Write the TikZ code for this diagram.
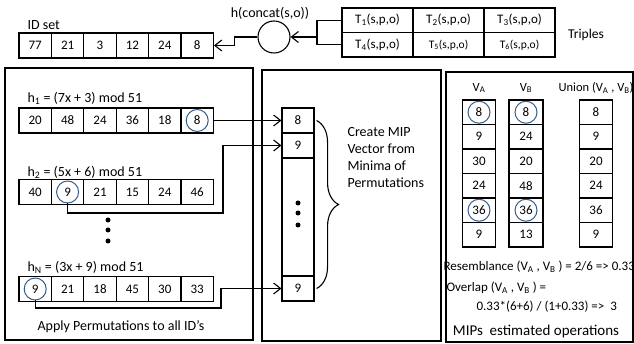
\documentclass[tikz,border=0pt]{standalone}
\usepackage{fontspec}
\setmainfont{Carlito}
\usetikzlibrary{arrows.meta,decorations.pathreplacing}
\definecolor{cblue}{RGB}{56,93,138}
\begin{document}
\begin{tikzpicture}[x=1pt,y=-1pt,line width=1.1pt,
  cell/.style={draw, line width=1.1pt, minimum width=32.4pt, minimum height=25pt, inner sep=0pt, font=\fontsize{13}{15}\selectfont},
  tcell/.style={draw, line width=1.1pt, minimum width=71pt, minimum height=24.5pt, inner sep=0pt, font=\fontsize{13}{15}\selectfont},
  vcell/.style={draw, line width=1.1pt, minimum width=33pt, minimum height=24.5pt, inner sep=0pt, font=\fontsize{13}{15}\selectfont},
  ring/.style={draw=cblue, line width=1pt, circle, minimum size=22pt, inner sep=0pt},
  lbl/.style={inner sep=0pt, font=\fontsize{14}{16}\selectfont},
  slbl/.style={inner sep=0pt, font=\fontsize{12.5}{15}\selectfont},
  rlbl/.style={inner sep=0pt, font=\fontsize{13}{15}\selectfont},
  panel/.style={draw, line width=1.1pt},
  arr/.style={-{Straight Barb[length=7pt,width=11pt]}},
  dot/.style={fill, circle, inner sep=0pt, minimum size=5pt}
]
\useasboundingbox (0,0) rectangle (634,344);

% ID set
\node[lbl, anchor=west] (idlab) at (27,25) {ID set};
\foreach \v [count=\i] in {77,21,3,12,24,8}
  \node[cell] (id\i) at ({35.2+32.4*(\i-1)},45.5) {\v};

% hash circle
\node[draw, circle, minimum size=32pt, inner sep=0pt] (circ) at (274,37) {};
\node[lbl] (hlab) at (270,13) {h(concat(s,o))};

% Triples table
\node[tcell] (t1) at (377.5,20.25) {T\textsubscript{1}(s,p,o)};
\node[tcell] (t2) at (448.5,20.25) {T\textsubscript{2}(s,p,o)};
\node[tcell] (t3) at (519.5,20.25) {T\textsubscript{3}(s,p,o)};
\node[tcell] (t4) at (377.5,44.75) {T\textsubscript{4}(s,p,o)};
\node[tcell, font=\fontsize{11.5}{14}\selectfont] (t5) at (448.5,44.75) {T\textsubscript{5}(s,p,o)};
\node[tcell, font=\fontsize{11.5}{14}\selectfont] (t6) at (519.5,44.75) {T\textsubscript{6}(s,p,o)};
\node[lbl, font=\fontsize{13.5}{16}\selectfont] (trlab) at (586,35) {Triples};

\coordinate (br) at (317,37);
\draw (t1.west) -| (br);
\draw (t4.west) -| (br);
\draw[arr] (br) -- (circ.east);
\draw[arr] (circ.west) -- ++(-23,0) |- (id6.east);

% panels
\draw[panel] (5,68) rectangle (253,340);
\draw[panel] (262,70) rectangle (441,341);
\draw[panel] (446,72) rectangle (633,342);

% permutations
\node[lbl, anchor=west] (h1lab) at (27,98) {h\textsubscript{1} = (7x + 3) mod 51};
\foreach \v [count=\i] in {20,48,24,36,18,8}
  \node[cell] (a\i) at ({35.2+32.4*(\i-1)},120.5) {\v};
\node[lbl, anchor=west] (h2lab) at (27,172) {h\textsubscript{2} = (5x + 6) mod 51};
\foreach \v [count=\i] in {40,9,21,15,24,46}
  \node[cell] (b\i) at ({35.2+32.4*(\i-1)},192) {\v};
\node[lbl, anchor=west] (hNlab) at (27,267) {h\textsubscript{N} = (3x + 9) mod 51};
\foreach \v [count=\i] in {9,21,18,45,30,33}
  \node[cell] (c\i) at ({35.2+32.4*(\i-1)},289) {\v};
\node[ring] (r1) at (a6) {};
\node[ring] (r2) at (b2) {};
\node[ring] (rN) at (c1) {};
\node[dot] (ld1) at (108,220) {};
\node[dot] (ld2) at (108,230) {};
\node[dot] (ld3) at (108,241) {};
\node[lbl] (applab) at (121,327) {Apply Permutations to all ID's};

% MIP vector
\node[cell, minimum width=32pt] (m1) at (298,120.5) {8};
\node[cell, minimum width=32pt] (m2) at (298,145.5) {9};
\node[draw, line width=1.1pt, minimum width=32pt, minimum height=118pt, inner sep=0pt] (m3) at (298,217) {};
\draw[line width=1.8pt] (m3.north west) -- (m3.north east);
\node[cell, minimum width=32pt] (m4) at (298,288.5) {9};
\node[dot] (md1) at (298,203) {};
\node[dot] (md2) at (298,213) {};
\node[dot] (md3) at (298,225) {};

\draw[arr] (a6.east) -- (m1.west);
\draw[arr] (r2.south) |- (223,213) |- (m2.west);
\draw[arr] (rN.south) |- (221,308) |- (m4.west);

\draw[decorate, decoration={brace, amplitude=22pt}] ([xshift=2pt]m1.east) -- ([xshift=2pt]m4.east);
\node[lbl, anchor=north west, align=left, font=\fontsize{14}{17}\selectfont] (miptext) at (347,127) {Create MIP\\Vector from\\Minima of\\Permutations};

% right panel
\node[slbl] (valab) at (479,88) {V\textsubscript{A}};
\node[slbl] (vblab) at (526,88) {V\textsubscript{B}};
\node[slbl] (unlab) at (596,88) {Union (V\textsubscript{A} , V\textsubscript{B})};
\foreach \v [count=\i] in {8,9,30,24,36,9}
  \node[vcell] (va\i) at (479,{112.25+24.5*(\i-1)}) {\v};
\foreach \v [count=\i] in {8,24,20,48,36,13}
  \node[vcell, minimum width=34pt] (vb\i) at (526,{112.25+24.5*(\i-1)}) {\v};
\foreach \v [count=\i] in {8,9,20,24,36,9}
  \node[vcell] (vu\i) at (596,{112.25+24.5*(\i-1)}) {\v};
\node[ring] (ra1) at (va1) {};
\node[ring] (ra5) at (va5) {};
\node[ring] (rb1) at (vb1) {};
\node[ring] (rb5) at (vb5) {};

\node[rlbl, anchor=west] (res) at (443,267) {Resemblance (V\textsubscript{A} , V\textsubscript{B} ) = 2/6 => 0.33};
\node[rlbl, anchor=west] (ovl) at (446,288) {Overlap (V\textsubscript{A} , V\textsubscript{B} ) =};
\node[rlbl, anchor=west] (ovl2) at (476,307) {0.33*(6+6) / (1+0.33) =>\ \ 3};
\node[lbl, font=\fontsize{15}{17}\selectfont] (miplab) at (536,332) {MIPs\ \ estimated operations};
\end{tikzpicture}
\end{document}
